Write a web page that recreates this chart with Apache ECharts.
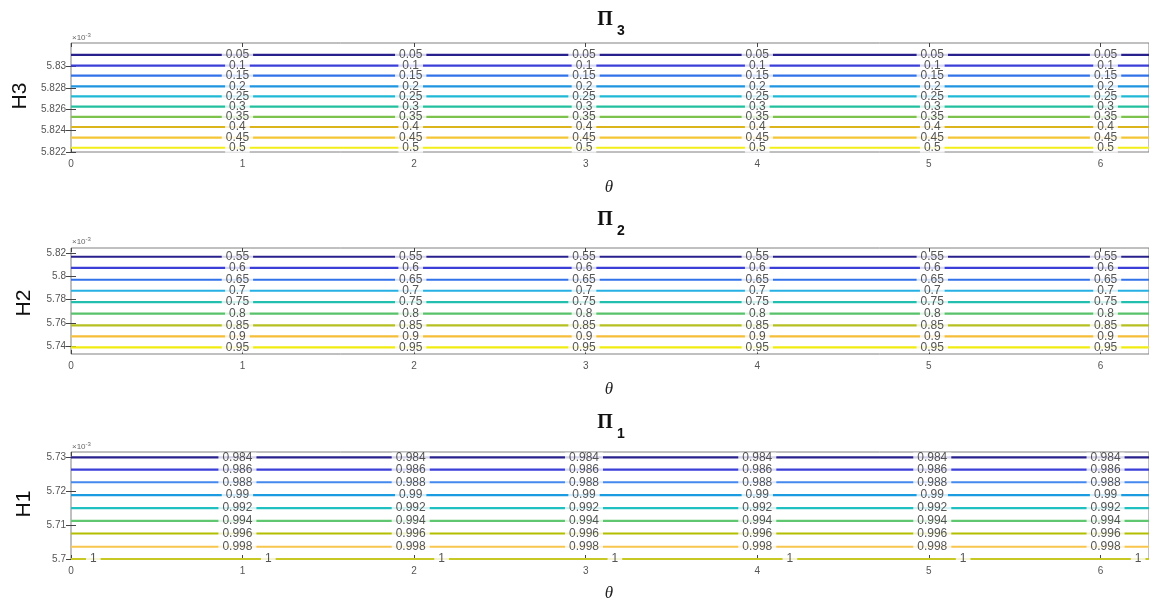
<!DOCTYPE html>
<html>
<head>
<meta charset="utf-8">
<script src="https://cdn.jsdelivr.net/npm/echarts@6/dist/echarts.min.js"></script>
<style>
  html, body { margin: 0; padding: 0; background: #fff; }
  #chart { width: 1149px; height: 609px; }
</style>
</head>
<body>
<div id="chart"></div>
<script>
// θ axis ticks and where the contour labels sit along θ
const thetaTicks = [0, 1, 2, 3, 4, 5, 6];
const labelTheta = [0.97, 1.98, 2.99, 4.0, 5.02, 6.03];
const unitLabelTheta = [0.13, 1.15, 2.16, 3.17, 4.19, 5.2, 6.22];

// Π3 contours over H3 (×10^-3)
const h3Ticks = [5.822, 5.824, 5.826, 5.828, 5.83];
const pi3Levels = [0.05, 0.1, 0.15, 0.2, 0.25, 0.3, 0.35, 0.4, 0.45, 0.5];
const pi3H = [5.83108, 5.83009, 5.82914, 5.82815, 5.8272, 5.82625, 5.82529, 5.82434, 5.82335, 5.8224];

// Π2 contours over H2 (×10^-3)
const h2Ticks = [5.74, 5.76, 5.78, 5.8, 5.82];
const pi2Levels = [0.55, 0.6, 0.65, 0.7, 0.75, 0.8, 0.85, 0.9, 0.95];
const pi2H = [5.8168, 5.8072, 5.7971, 5.7877, 5.778, 5.768, 5.758, 5.7486, 5.7391];

// Π1 contours over H1 (×10^-3)
const h1Ticks = [5.7, 5.71, 5.72, 5.73];
const pi1Levels = [0.984, 0.986, 0.988, 0.99, 0.992, 0.994, 0.996, 0.998, 1];
const pi1H = [5.7299, 5.7263, 5.7226, 5.7188, 5.715, 5.7112, 5.7075, 5.7036, 5.7];

// parula-like colours per panel, first level darkest
const pi3Colors = ['#28208c', '#3b3fd8', '#3272e8', '#1f94e0', '#1fb9d6', '#22c09e', '#7dc24c', '#dcb51c', '#f4c636', '#f2ee18'];
const pi2Colors = ['#28208c', '#3b3fd8', '#3272e8', '#26b0e4', '#22bfae', '#58c26a', '#b6c020', '#f5bd38', '#f0ec12'];
const pi1Colors = ['#28208c', '#3b3fd8', '#4588ee', '#1c9ce0', '#20bfc0', '#5fc770', '#b3be00', '#f8c64c', '#c8c824'];

const TWO_PI = 2 * Math.PI;

const panels = [
  { top: 43, height: 109, min: 5.822, max: 5.8322, ticks: h3Ticks, levels: pi3Levels, h: pi3H, colors: pi3Colors,
    name: 'H3', sub: '3', nameXY: [20, 96], titleY: 20, xlabelY: 188, expY: 38 },
  { top: 248, height: 106, min: 5.7335, max: 5.8243, ticks: h2Ticks, levels: pi2Levels, h: pi2H, colors: pi2Colors,
    name: 'H2', sub: '2', nameXY: [24, 303], titleY: 220, xlabelY: 390, expY: 242 },
  { top: 452, height: 107, min: 5.7, max: 5.7315, ticks: h1Ticks, levels: pi1Levels, h: pi1H, colors: pi1Colors,
    name: 'H1', sub: '1', nameXY: [24, 504], titleY: 423, xlabelY: 594, expY: 447 }
];

const grids = [], xAxes = [], yAxes = [], series = [], graphics = [];

panels.forEach((p, i) => {
  grids.push({
    left: 71, right: 0, top: p.top, height: p.height,
    show: true, borderColor: '#808080', borderWidth: 1, backgroundColor: 'transparent'
  });
  // bottom θ axis
  xAxes.push({
    type: 'value', gridIndex: i, min: 0, max: TWO_PI, position: 'bottom',
    axisLine: { show: false },
    axisTick: { show: true, inside: true, length: 4, customValues: thetaTicks, lineStyle: { color: '#444' } },
    axisLabel: { customValues: thetaTicks, fontSize: 10, color: '#555', margin: 7, fontFamily: 'Liberation Sans' },
    splitLine: { show: false }
  });
  // mirrored ticks along the top edge
  xAxes.push({
    type: 'value', gridIndex: i, min: 0, max: TWO_PI, position: 'top',
    axisLine: { show: false },
    axisTick: { show: true, inside: true, length: 4, customValues: thetaTicks, lineStyle: { color: '#444' } },
    axisLabel: { show: false, customValues: thetaTicks },
    splitLine: { show: false }
  });
  yAxes.push({
    type: 'value', gridIndex: i, min: p.min, max: p.max, position: 'left',
    axisLine: { show: false },
    axisTick: { show: true, inside: true, length: 5, customValues: p.ticks, lineStyle: { color: '#444' } },
    axisLabel: { customValues: p.ticks, fontSize: 10, color: '#555', margin: 5, fontFamily: 'Liberation Sans',
                 showMinLabel: true, showMaxLabel: true, formatter: v => String(+v.toFixed(4)) },
    splitLine: { show: false }
  });
  yAxes.push({
    type: 'value', gridIndex: i, min: p.min, max: p.max, position: 'right',
    axisLine: { show: false },
    axisTick: { show: true, inside: true, length: 5, customValues: p.ticks, lineStyle: { color: '#444' } },
    axisLabel: { show: false, customValues: p.ticks },
    splitLine: { show: false }
  });

  const xi = 2 * i, yi = 2 * i;
  p.levels.forEach((lv, k) => {
    const hv = p.h[k];
    series.push({
      type: 'line', xAxisIndex: xi, yAxisIndex: yi, silent: true, clip: false,
      showSymbol: false, symbol: 'none', animation: false, z: 3,
      lineStyle: { color: p.colors[k], width: 2.2 },
      data: [[0, hv], [TWO_PI, hv]]
    });
    const thetas = lv === 1 ? unitLabelTheta : labelTheta;
    series.push({
      type: 'scatter', xAxisIndex: xi, yAxisIndex: yi, silent: true, clip: false,
      symbolSize: 0, animation: false, z: 5,
      data: thetas.map(t => [t, hv, String(lv)]),
      label: {
        show: true, position: 'inside', formatter: d => d.value[2],
        fontSize: 12, fontFamily: 'Liberation Sans', color: '#2a2a2a',
        backgroundColor: '#fff', padding: [0, 4], lineHeight: 10
      }
    });
  });

  // y label, panel title, θ label and exponent note
  graphics.push({
    type: 'text', x: p.nameXY[0], y: p.nameXY[1], rotation: Math.PI / 2,
    style: { text: p.name, font: '21px "Liberation Sans"', fill: '#111', align: 'center', verticalAlign: 'middle' }
  });
  graphics.push({
    type: 'text', x: 605, y: p.titleY,
    style: { text: 'Π', font: 'bold 20px "Liberation Serif"', fill: '#111', align: 'center', verticalAlign: 'middle' }
  });
  graphics.push({
    type: 'text', x: 621, y: p.titleY + 11,
    style: { text: p.sub, font: 'bold 14px "Liberation Sans"', fill: '#111', align: 'center', verticalAlign: 'middle' }
  });
  graphics.push({
    type: 'text', x: 609, y: p.xlabelY,
    style: { text: 'θ', font: 'italic 17px "Liberation Serif"', fill: '#222', align: 'center', verticalAlign: 'middle' }
  });
  graphics.push({
    type: 'text', x: 72, y: p.expY,
    style: {
      text: '{m|×10}{s|-3}', align: 'left', verticalAlign: 'middle',
      rich: {
        m: { fontSize: 8, fontFamily: 'Liberation Sans', fill: '#666', color: '#666' },
        s: { fontSize: 6, fontFamily: 'Liberation Sans', fill: '#666', color: '#666', padding: [0, 0, 5, 0] }
      }
    }
  });
});

const chart = echarts.init(document.getElementById('chart'), null, { renderer: 'canvas' });
chart.setOption({
  animation: false,
  backgroundColor: '#fff',
  grid: grids,
  xAxis: xAxes,
  yAxis: yAxes,
  series: series,
  graphic: graphics
});
</script>
</body>
</html>
